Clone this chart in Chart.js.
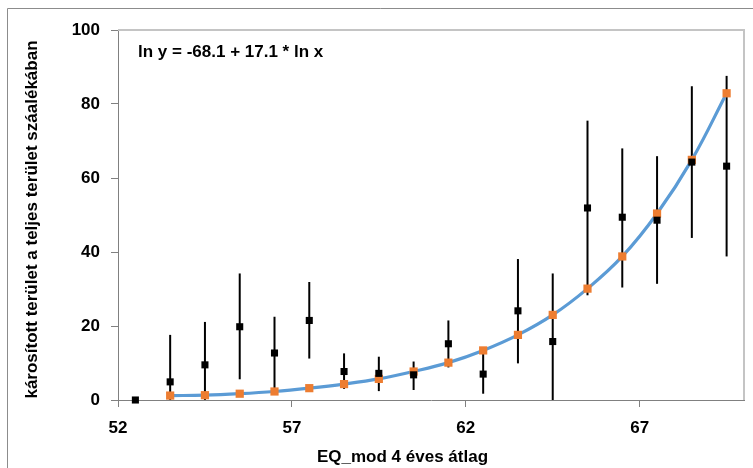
<!DOCTYPE html>
<html>
<head>
<meta charset="utf-8">
<script src="https://cdn.jsdelivr.net/npm/chart.js@4.4.1/dist/chart.umd.min.js"></script>
<style>
  html, body { margin: 0; padding: 0; background: #fff; }
  canvas { display: block; }
</style>
</head>
<body>
<canvas id="chart" width="753" height="468"></canvas>
<script>
const xVals   = [52.5, 53.5, 54.5, 55.5, 56.5, 57.5, 58.5, 59.5, 60.5, 61.5, 62.5, 63.5, 64.5, 65.5, 66.5, 67.5, 68.5, 69.5];
const meanVals = [0, 4.9, 9.5, 19.8, 12.7, 21.5, 7.7, 7.2, 6.8, 15.2, 7.0, 24.1, 15.8, 51.9, 49.4, 48.6, 64.3, 63.2];
const upperVals = [0, 17.6, 21.1, 34.2, 22.5, 31.9, 12.6, 11.7, 10.4, 21.5, 13.4, 38.1, 34.2, 75.5, 68.0, 65.9, 84.8, 87.6];
const lowerVals = [0, 0, 0, 5.6, 2.3, 11.2, 3.0, 2.4, 2.7, 8.8, 1.7, 9.9, 0, 28.3, 30.4, 31.4, 43.8, 38.8];

// Fitted curve (orange points on the blue line)
const fitX    = [53.5, 54.5, 55.5, 56.5, 57.5, 58.5, 59.5, 60.5, 61.5, 62.5, 63.5, 64.5, 65.5, 66.5, 67.5, 68.5, 69.5];
const fitVals = [1.2, 1.3, 1.7, 2.3, 3.2, 4.3, 5.7, 7.7, 10.1, 13.4, 17.6, 23.0, 30.1, 38.8, 50.4, 64.9, 82.9];

const xTickVals = [52, 57, 62, 67];
const yTickVals = [0, 20, 40, 60, 80, 100];

const equationText = 'ln y = -68.1 + 17.1 * ln x';
const xTitle = 'EQ_mod 4 éves átlag';
const yTitle = 'károsított terület a teljes terület száalékában';

const FONT = '"Liberation Sans", Arial, sans-serif';

const toPoints = (xs, ys) => xs.map((x, i) => ({ x: x, y: ys[i] }));

// frame, plot border, error bars and texts
const decorations = {
    id: 'decorations',
    beforeDraw(chart) {
        const ctx = chart.ctx;
        ctx.save();
        ctx.strokeStyle = '#8c8c8c';
        ctx.lineWidth = 1;
        ctx.beginPath();
        ctx.moveTo(7.5, 468);
        ctx.lineTo(7.5, 8.5);
        ctx.lineTo(753, 8.5);
        ctx.stroke();
        ctx.restore();
    },
    beforeDatasetsDraw(chart) {
        const { ctx, chartArea: a, scales: { x, y } } = chart;
        ctx.save();
        ctx.strokeStyle = '#c4c4c4';
        ctx.lineWidth = 2;
        ctx.beginPath();
        ctx.moveTo(a.left, a.top);
        ctx.lineTo(a.right, a.top);
        ctx.lineTo(a.right, a.bottom);
        ctx.stroke();

        ctx.strokeStyle = '#000';
        ctx.lineWidth = 2;
        xVals.forEach((xv, i) => {
            if (upperVals[i] === lowerVals[i]) { return; }
            const px = x.getPixelForValue(xv);
            ctx.beginPath();
            ctx.moveTo(px, y.getPixelForValue(lowerVals[i]));
            ctx.lineTo(px, y.getPixelForValue(upperVals[i]));
            ctx.stroke();
        });
        ctx.restore();
    },
    afterDraw(chart) {
        const ctx = chart.ctx;
        ctx.save();
        ctx.fillStyle = '#000';
        ctx.font = 'bold 17px ' + FONT;
        ctx.textBaseline = 'alphabetic';

        ctx.textAlign = 'left';
        ctx.fillText(equationText, 138, 56.5);

        ctx.textAlign = 'center';
        ctx.fillText(xTitle, 402.5, 462);

        ctx.translate(37, 219.5);
        ctx.rotate(-Math.PI / 2);
        ctx.fillText(yTitle, 0, 0);
        ctx.restore();
    }
};

new Chart(document.getElementById('chart').getContext('2d'), {
    type: 'scatter',
    data: {
        datasets: [
            {
                label: 'mért',
                data: toPoints(xVals, meanVals),
                pointStyle: 'rect',
                pointRadius: 5,
                pointBorderWidth: 0,
                backgroundColor: '#000',
                borderColor: '#000',
                showLine: false,
                clip: false,
                order: 1
            },
            {
                label: 'illesztett',
                data: toPoints(fitX, fitVals),
                showLine: true,
                borderColor: '#5b9bd5',
                borderWidth: 3.2,
                tension: 0.4,
                pointStyle: 'rect',
                pointRadius: 5.8,
                pointBorderWidth: 0,
                pointBackgroundColor: '#ed7d31',
                pointBorderColor: '#ed7d31',
                clip: false,
                order: 2
            }
        ]
    },
    options: {
        responsive: false,
        animation: false,
        layout: { padding: { left: 0, top: 30, right: 9, bottom: 0 } },
        plugins: {
            legend: { display: false },
            tooltip: { enabled: false }
        },
        scales: {
            x: {
                type: 'linear',
                min: 52,
                max: 70,
                afterBuildTicks: (scale) => { scale.ticks = xTickVals.map(v => ({ value: v })); },
                afterFit: (scale) => { scale.height = 68; },
                grid: { drawOnChartArea: false, drawTicks: true, tickLength: 7, color: '#808080' },
                border: { color: '#808080', width: 1 },
                ticks: { color: '#000', padding: 11, font: { family: FONT, size: 17, weight: 'bold' } }
            },
            y: {
                min: 0,
                max: 100,
                afterBuildTicks: (scale) => { scale.ticks = yTickVals.map(v => ({ value: v })); },
                afterFit: (scale) => { scale.width = 118; },
                grid: { drawOnChartArea: false, drawTicks: true, tickLength: 7, color: '#808080' },
                border: { color: '#808080', width: 1 },
                ticks: { color: '#000', padding: 11, font: { family: FONT, size: 17, weight: 'bold' } }
            }
        }
    },
    plugins: [decorations]
});
</script>
</body>
</html>
